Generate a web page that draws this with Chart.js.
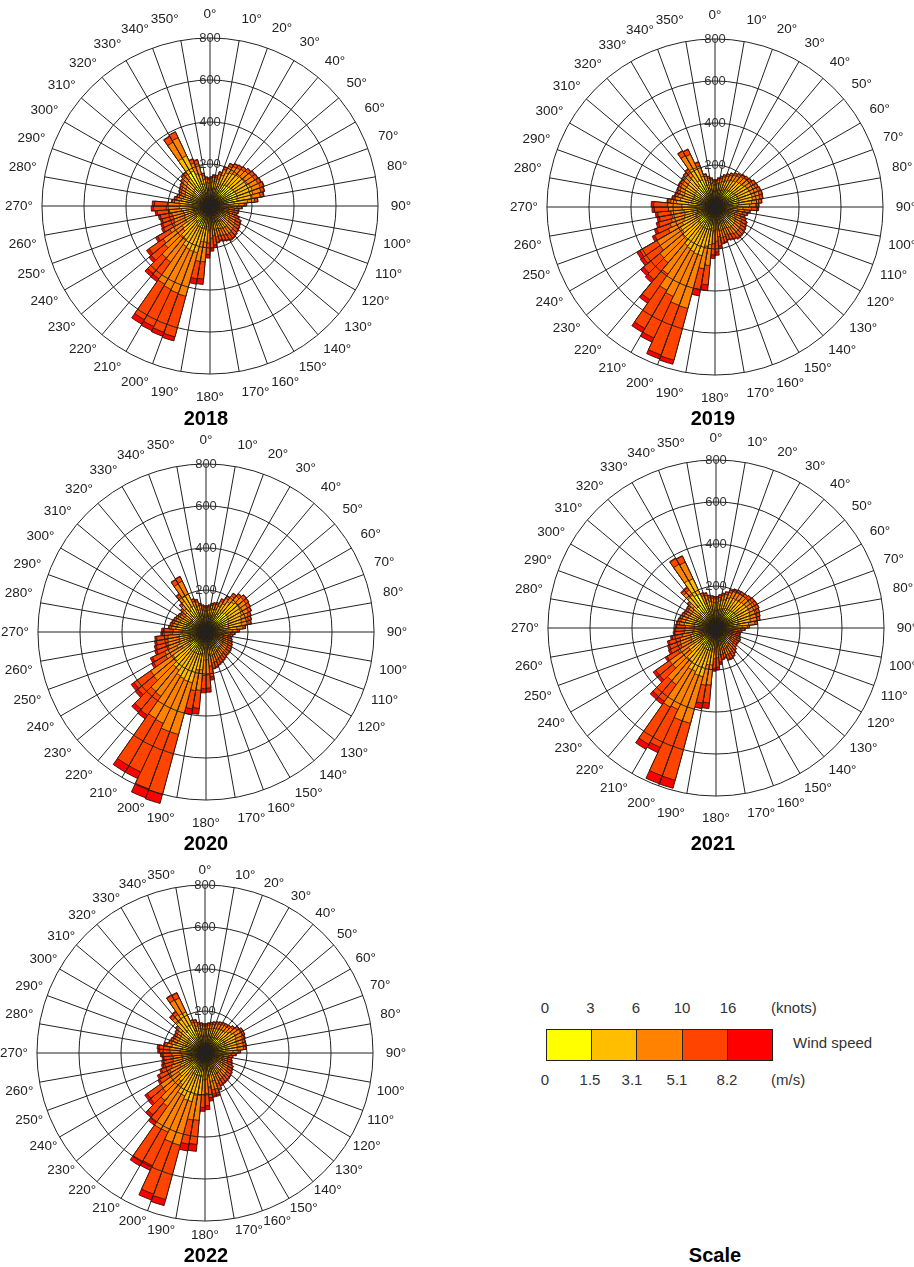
<!DOCTYPE html>
<html>
<head>
<meta charset="utf-8">
<title>Wind roses 2018-2022</title>
<script src="https://cdn.jsdelivr.net/npm/chart.js@4.4.1/dist/chart.umd.min.js"></script>
<style>
html,body{margin:0;padding:0;background:#fff;}
body{width:914px;height:1267px;position:relative;overflow:hidden;font-family:"Liberation Sans",Arial,sans-serif;color:#222;}
canvas.rose{position:absolute;left:0;top:0;}
.year{position:absolute;transform:translate(-50%,-50%);font-weight:bold;font-size:20px;color:#000;white-space:nowrap;}
.lg{position:absolute;transform:translate(-50%,-50%);font-size:15px;color:#333;white-space:nowrap;}
.lgl{position:absolute;transform:translateY(-50%);font-size:15px;color:#333;white-space:nowrap;}
#bar{position:absolute;left:546px;top:1029px;width:227px;height:32px;display:flex;box-sizing:border-box;border:1.5px solid #222;}
#bar div{flex:1;box-sizing:border-box;border-right:1.5px solid #222;}
#bar div:last-child{border-right:none;}
</style>
</head>
<body>
<canvas id="c2018" class="rose" width="410" height="410"></canvas>
<canvas id="c2019" class="rose" width="410" height="410"></canvas>
<canvas id="c2020" class="rose" width="410" height="410"></canvas>
<canvas id="c2021" class="rose" width="410" height="410"></canvas>
<canvas id="c2022" class="rose" width="410" height="410"></canvas>
<div id="legend"></div>
<script>
// ---------------- DATA ----------------
const directions = [0,5,10,15,20,25,30,35,40,45,50,55,60,65,70,75,80,85,90,95,100,105,110,115,120,125,130,135,140,145,150,155,160,165,170,175,180,185,190,195,200,205,210,215,220,225,230,235,240,245,250,255,260,265,270,275,280,285,290,295,300,305,310,315,320,325,330,335,340,345,350,355];
const speedClasses = ['0-1.5 m/s','1.5-3.1 m/s','3.1-5.1 m/s','5.1-8.2 m/s','>8.2 m/s'];
const knotTicks = ['0','3','6','10','16'];
const msTicks = ['0','1.5','3.1','5.1','8.2'];
const years = ['2018','2019','2020','2021','2022'];

// 2018 (counts per 5-degree sector, per speed class)
const y2018_c1 = [77,82,82,85,100,112,117,120,123,127,131,132,135,137,135,131,115,88,65,59,59,57,63,69,71,73,76,78,80,80,78,76,73,76,52,56,64,98,98,110,110,110,108,97,96,84,81,66,77,75,74,75,79,84,83,102,96,91,88,91,94,96,102,107,110,181,184,113,108,88,77,74];
const y2018_c2 = [35,38,38,48,56,63,66,67,69,71,73,74,76,77,76,73,64,49,34,31,31,30,33,36,37,39,40,41,42,42,41,40,39,40,40,43,50,75,76,120,120,118,115,97,96,84,81,66,56,55,54,55,58,62,60,46,44,41,40,41,42,44,46,49,50,81,80,50,48,40,35,34];
const y2018_c3 = [17,18,18,25,30,34,35,36,37,38,39,40,40,41,40,39,35,26,29,27,27,26,28,31,32,33,34,35,36,37,35,34,33,34,50,54,62,94,94,215,212,210,207,132,131,114,111,90,56,55,54,55,57,62,60,22,21,20,19,20,20,21,22,23,24,89,95,55,53,19,17,16];
const y2018_c4 = [8,9,9,10,12,14,14,14,15,16,16,16,16,17,16,16,14,10,22,19,19,18,21,24,25,25,25,26,27,27,26,25,25,25,44,47,55,82,84,200,198,195,195,97,97,83,81,66,56,55,54,55,58,61,61,11,11,10,10,10,10,11,11,12,12,31,30,19,18,10,8,8];
const y2018_c5 = [3,3,3,2,2,2,3,3,2,3,3,3,3,3,3,3,2,2,5,4,4,4,5,5,5,5,5,5,5,6,5,5,5,5,14,15,17,26,26,20,20,22,25,17,18,15,15,12,10,10,9,10,10,11,11,4,3,3,3,3,4,3,4,4,4,3,1,3,3,3,3,3];

// 2019
const y2019_c1 = [72,77,82,80,85,90,95,97,102,105,107,112,114,116,117,116,112,105,87,71,67,63,67,71,73,76,78,78,79,76,73,71,75,76,52,60,64,100,105,110,110,110,108,110,103,102,95,95,99,92,87,84,85,90,91,126,116,110,107,110,113,113,116,118,123,146,143,108,91,82,77,72];
const y2019_c2 = [32,35,38,45,48,50,53,55,57,59,60,63,64,65,66,65,63,59,46,37,35,33,35,37,39,40,41,41,41,40,39,37,39,40,40,46,49,80,86,130,130,125,122,115,103,102,95,95,73,68,64,62,63,66,67,58,52,50,49,50,51,51,52,54,56,65,64,48,41,38,35,32];
const y2019_c3 = [16,17,18,24,25,27,29,29,31,31,32,34,34,35,35,35,34,31,40,32,30,28,30,32,33,34,35,36,36,34,33,32,34,34,50,57,61,100,108,260,258,235,228,165,141,139,130,129,73,68,64,62,63,66,67,28,25,24,23,24,25,25,25,26,27,71,70,53,20,18,17,16];
const y2019_c4 = [8,8,9,10,10,11,11,12,12,13,13,14,14,14,14,14,14,13,29,25,23,21,23,25,25,25,26,26,26,25,25,25,25,25,44,51,54,92,100,255,252,218,210,150,104,101,97,94,72,68,63,61,63,66,67,14,13,12,12,12,12,12,13,13,13,25,25,18,10,9,8,8];
const y2019_c5 = [2,3,3,1,2,2,2,2,3,2,3,2,2,2,3,3,2,2,6,5,5,5,5,5,5,5,5,6,6,5,5,5,5,5,14,16,17,28,31,20,20,22,22,20,19,18,17,17,13,12,12,11,11,12,12,4,4,4,4,4,4,4,4,4,4,3,3,3,3,3,3,2];

// 2020
const y2020_c1 = [69,72,77,72,75,87,100,113,120,126,125,122,120,115,112,110,95,80,59,55,53,55,57,59,61,62,63,63,65,67,69,71,74,76,60,75,75,102,104,110,110,110,108,111,110,97,96,66,88,78,77,75,74,65,63,99,96,94,91,88,85,82,88,99,123,136,138,80,89,77,72,69];
const y2020_c2 = [31,32,35,41,42,49,56,63,67,70,70,69,67,64,63,62,53,45,31,29,27,29,30,31,32,33,33,33,34,35,36,37,39,40,46,57,58,79,80,140,140,135,133,111,110,97,96,66,64,57,56,55,54,47,47,45,44,42,41,40,39,38,40,45,56,61,61,36,40,35,32,31];
const y2020_c3 = [15,16,17,22,23,26,30,34,36,38,38,37,36,35,34,33,29,24,27,25,24,25,26,27,28,28,28,28,29,30,31,32,34,34,57,72,73,98,100,255,255,235,235,152,150,132,130,90,65,57,56,55,54,47,46,22,21,20,20,19,19,18,19,22,27,67,68,39,20,17,16,15];
const y2020_c4 = [8,8,8,9,9,11,12,14,14,15,15,15,14,14,14,13,11,10,19,18,17,18,18,19,20,21,21,21,22,23,24,25,25,25,51,63,64,86,88,295,290,255,259,111,110,97,96,66,64,58,56,54,54,48,47,11,11,10,10,10,9,9,10,11,13,23,23,13,10,8,8,8];
const y2020_c5 = [2,2,3,1,1,2,2,2,3,3,2,2,3,2,2,2,2,1,4,3,4,3,4,4,4,4,5,5,5,5,5,5,5,5,16,20,20,28,28,45,45,35,35,20,20,17,17,12,12,10,10,10,9,8,8,3,3,4,3,3,3,3,3,3,4,3,3,2,3,3,2,2];

// 2021
const y2021_c1 = [82,88,94,90,97,103,105,106,107,110,112,113,113,111,109,107,100,80,59,53,50,50,53,55,54,53,55,59,63,67,70,69,63,65,46,52,54,100,101,110,110,108,108,98,97,80,80,62,75,74,72,66,62,60,59,104,102,99,96,94,92,94,99,131,132,181,179,85,96,88,85,82];
const y2021_c2 = [38,40,42,50,55,58,59,59,60,62,63,64,64,62,61,60,56,45,31,27,26,26,27,29,28,28,29,31,33,35,37,36,33,34,35,40,41,77,78,130,130,120,122,98,97,80,80,62,55,54,53,48,45,44,43,48,46,45,44,42,42,42,45,59,60,81,80,38,44,40,39,38];
const y2021_c3 = [18,19,20,27,29,31,31,32,32,33,34,34,34,33,33,32,30,24,27,24,23,23,24,25,24,24,25,27,28,30,31,31,28,29,44,50,51,96,98,230,230,200,205,133,133,110,110,84,55,54,53,49,45,44,43,23,22,22,21,20,20,20,22,29,29,89,87,41,21,19,19,18];
const y2021_c4 = [9,10,10,11,12,12,13,13,13,13,14,14,14,14,13,13,12,10,19,17,17,17,17,18,18,18,18,19,21,23,23,24,21,22,38,44,45,85,86,280,279,200,205,98,98,80,80,61,55,54,53,48,45,44,42,11,11,11,11,10,10,10,11,14,14,31,31,14,11,10,9,9];
const y2021_c5 = [3,3,4,2,2,2,2,2,2,2,2,2,2,2,2,2,2,1,4,4,4,4,4,3,4,4,3,4,5,5,5,5,5,5,12,14,15,27,27,40,40,27,27,18,18,15,15,11,10,10,9,9,8,8,8,4,4,3,3,4,4,4,3,5,5,3,3,2,3,3,3,3];

// 2022
const y2022_c1 = [77,80,82,77,80,82,85,86,87,92,100,105,105,102,100,100,99,85,63,57,55,57,59,63,65,67,69,71,71,72,73,80,90,90,60,70,72,110,110,110,110,108,108,92,88,78,77,57,75,69,65,63,62,64,68,69,110,99,96,94,94,96,102,132,134,150,149,80,91,82,80,77];
const y2022_c2 = [35,36,38,43,45,46,48,48,49,52,56,59,59,57,56,56,55,48,33,30,29,30,31,33,34,35,36,37,37,38,39,42,47,47,46,54,56,94,95,130,130,118,118,92,88,78,77,57,55,51,47,46,45,47,50,50,50,45,44,42,42,44,46,60,61,67,67,36,42,38,36,35];
const y2022_c3 = [17,17,18,23,24,25,25,26,26,28,30,31,31,31,30,30,30,25,28,26,25,26,27,28,29,30,31,32,32,33,33,36,41,41,57,68,70,118,119,215,213,190,192,126,120,106,105,78,55,51,47,46,45,47,49,50,24,22,21,20,20,21,22,29,29,74,73,39,20,18,17,17];
const y2022_c4 = [8,9,9,10,10,10,10,10,11,11,12,13,13,12,12,12,12,10,21,18,18,18,19,21,22,23,24,23,25,24,25,27,30,30,51,59,61,115,117,267,262,176,178,93,88,77,77,58,56,50,48,47,45,46,49,51,12,11,11,10,10,11,11,14,15,26,26,13,10,9,9,8];
const y2022_c5 = [3,3,3,2,1,2,2,2,2,2,2,2,2,3,2,2,2,2,5,4,3,4,4,5,5,5,5,5,5,5,5,5,6,6,16,19,19,33,33,30,30,25,25,17,16,14,14,10,10,9,8,8,8,8,9,9,4,3,3,4,4,3,4,5,5,3,3,2,3,3,3,3];

// ---------------- STYLE / LAYOUT ----------------
const COLORS = ['#FFFF00','#FFBE00','#FF8200','#FF4400','#FF0000'];
const FONT = '"Liberation Sans", Arial, sans-serif';
const LABEL_SIZE = 13.5;
const ROSES = [
  {year:'2018', cls:[y2018_c1,y2018_c2,y2018_c3,y2018_c4,y2018_c5], cx:210, cy:206, tx:206, ty:418, vShrink:0},
  {year:'2019', cls:[y2019_c1,y2019_c2,y2019_c3,y2019_c4,y2019_c5], cx:715, cy:207, tx:713, ty:418, vShrink:0},
  {year:'2020', cls:[y2020_c1,y2020_c2,y2020_c3,y2020_c4,y2020_c5], cx:206, cy:632, tx:206, ty:843, vShrink:0},
  {year:'2021', cls:[y2021_c1,y2021_c2,y2021_c3,y2021_c4,y2021_c5], cx:716, cy:628, tx:713, ty:843, vShrink:1.5},
  {year:'2022', cls:[y2022_c1,y2022_c2,y2022_c3,y2022_c4,y2022_c5], cx:205, cy:1053, tx:206, ty:1255, vShrink:9}
];

const mctx = document.createElement('canvas').getContext('2d');
mctx.font = LABEL_SIZE + 'px ' + FONT;
function makePadding(vShrink) {
  return function (c) {
    const w = mctx.measureText(c.label || '').width;
    const a = c.index * (360 / directions.length) * Math.PI / 180;
    return 14.5 - (w / 2) * Math.abs(Math.sin(a)) - (7.8 + vShrink) * Math.abs(Math.cos(a));
  };
}

function drawRose(r) {
  const canvas = document.getElementById('c' + r.year);
  const datasets = [];
  let run = directions.map(() => 0);
  r.cls.forEach((arr, k) => {
    run = run.map((v, i) => v + arr[i]);
    datasets.push({
      label: speedClasses[k],
      data: run.slice(),
      backgroundColor: COLORS[k],
      borderColor: 'rgba(45,18,0,0.9)',
      borderWidth: 1,
      clip: false
    });
  });
  const chart = new Chart(canvas, {
    type: 'polarArea',
    data: {labels: directions.map(d => d + '°'), datasets},
    options: {
      responsive: false,
      animation: false,
      devicePixelRatio: 1,
      layout: {padding: 0},
      plugins: {legend: {display: false}, tooltip: {enabled: false}, title: {display: false}},
      scales: {
        r: {
          type: 'radialLinear',
          min: 0, max: 800, startAngle: 0, beginAtZero: true,
          ticks: {stepSize: 200, showLabelBackdrop: false, color: '#333', font: {family: FONT, size: 13}, z: 1},
          grid: {display: true, circular: true, color: '#222', lineWidth: 1, z: 1},
          angleLines: {display: true, color: '#222', lineWidth: c => (c.index % 2 === 0 ? 1 : 0)},
          pointLabels: {
            display: true, centerPointLabels: false, color: '#222',
            font: {family: FONT, size: LABEL_SIZE},
            padding: makePadding(r.vShrink),
            callback: (l, i) => (i % 2 === 0 ? l : '')
          }
        }
      }
    }
  });
  const sc = chart.scales.r;
  canvas.style.left = (r.cx - sc.xCenter) + 'px';
  canvas.style.top = (r.cy - sc.yCenter) + 'px';

  const t = document.createElement('div');
  t.className = 'year';
  t.textContent = r.year;
  t.style.left = r.tx + 'px';
  t.style.top = r.ty + 'px';
  document.body.appendChild(t);
}
ROSES.forEach(drawRose);

// ---------------- SCALE LEGEND ----------------
const legend = document.getElementById('legend');
const bar = document.createElement('div');
bar.id = 'bar';
COLORS.forEach(c => { const d = document.createElement('div'); d.style.background = c; bar.appendChild(d); });
legend.appendChild(bar);
const knotX = [545, 590.5, 636, 682, 728];
const msX = [545, 590, 632, 677, 727];
function addText(txt, x, y, cls) {
  const d = document.createElement('div');
  d.className = cls; d.textContent = txt;
  d.style.left = x + 'px'; d.style.top = y + 'px';
  legend.appendChild(d);
}
knotTicks.forEach((t, i) => addText(t, knotX[i], 1007, 'lg'));
msTicks.forEach((t, i) => addText(t, msX[i], 1079, 'lg'));
addText('(knots)', 771, 1007, 'lgl');
addText('(m/s)', 771, 1079, 'lgl');
addText('Wind speed', 793, 1042, 'lgl');
addText('Scale', 715, 1255, 'year');
</script>
</body>
</html>
